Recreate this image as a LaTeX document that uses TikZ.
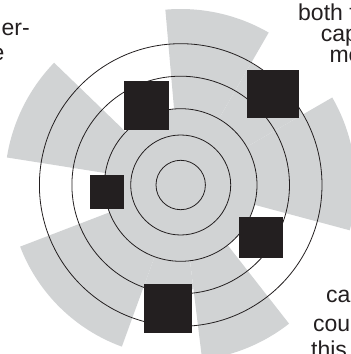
\documentclass[tikz,border=0pt]{standalone}
\usepackage{fontspec}
\setmainfont{Liberation Sans}
\usepackage{tikz}
\usetikzlibrary{positioning}
\definecolor{inkdark}{HTML}{231F20}
\definecolor{petal}{HTML}{D1D3D4}

\begin{document}
\begin{tikzpicture}[
  sector/.style={fill=petal, draw=none},
  ring/.style={draw=inkdark, line width=0.8pt},
  marker/.style={fill=inkdark, draw=none, inner sep=0pt, outer sep=0pt},
  wrap/.style={text=inkdark, inner sep=0pt, font=\fontsize{23}{23}\selectfont}
]
\useasboundingbox (0pt,0pt) rectangle (351pt,354pt);
\coordinate (ctr) at (180.7pt,169pt);

% petals of the rose
\fill[sector] (ctr) circle[radius=76.3pt];
\foreach \a/\b/\r in {-15/30/175, 30/60/141, 60/95/176, 136/171/176,
                      201/250/172, 250/277/105, 277/308/176}
  \fill[sector] (ctr) -- ++(\a:\r pt) arc[start angle=\a, end angle=\b, radius=\r pt] -- cycle;

% rings
\foreach \r in {24.7, 50, 76.3, 108.8, 141.3}
  \draw[ring] (ctr) circle[radius=\r pt];

% black markers
\node[marker, minimum width=45pt, minimum height=48.7pt] (mkA) at (146.8pt,248.7pt) {};
\node[marker, minimum width=52.3pt, minimum height=48.3pt] (mkB) at (272.8pt,259.8pt) {};
\node[marker, minimum width=34pt, minimum height=33.5pt] (mkC) at (107pt,162.2pt) {};
\node[marker, minimum width=43.8pt, minimum height=41.6pt] (mkD) at (260.9pt,116.5pt) {};
\node[marker, minimum width=47.6pt, minimum height=48.7pt] (mkE) at (168pt,45.7pt) {};

% text running round the figure
\node[wrap, anchor=base east] (tlA) at (30pt,318pt) {er-};
\node[wrap, anchor=base east] (tlB) at (4.5pt,293pt) {e};
\node[wrap, anchor=base west] (trA) at (298pt,333pt) {both t};
\node[wrap, anchor=base west] (trB) at (320.7pt,312pt) {cap};
\node[wrap, anchor=base west] (trC) at (329.3pt,291pt) {me};
\node[wrap, anchor=base west] (brA) at (326pt,51pt) {ca};
\node[wrap, anchor=base west] (brB) at (313pt,23pt) {cou};
\node[wrap, anchor=base west] (brC) at (311pt,-4pt) {this};
\end{tikzpicture}
\end{document}
